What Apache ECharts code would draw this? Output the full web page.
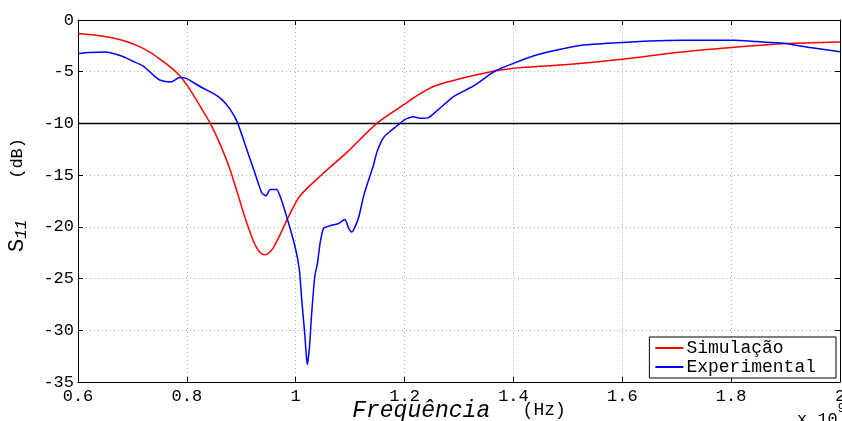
<!DOCTYPE html>
<html>
<head>
<meta charset="utf-8">
<script src="https://cdn.jsdelivr.net/npm/echarts@6/dist/echarts.min.js"></script>
<style>
  html, body { margin: 0; padding: 0; background: #fff; }
  #main { width: 842px; height: 421px; }
</style>
</head>
<body>
<div id="main"></div>
<script>
// frequency in units of 1e9 Hz, S11 in dB
const freqSim = [0.6, 0.63, 0.66, 0.69, 0.714, 0.735, 0.751, 0.77, 0.787, 0.806, 0.824, 0.8425, 0.861, 0.879,
  0.8945, 0.91, 0.925, 0.935, 0.944, 0.951, 0.959, 0.97, 0.985, 1.008, 1.051, 1.094, 1.149, 1.204, 1.225, 1.25,
  1.275, 1.3, 1.35, 1.4, 1.5, 1.6, 1.7, 1.8, 1.9, 2.0];
const s11Sim = [-1.3, -1.45, -1.7, -2.1, -2.6, -3.2, -3.8, -4.55, -5.4, -6.75, -8.3, -9.95, -12.0, -14.4,
  -17.0, -19.6, -21.7, -22.5, -22.7, -22.5, -22.0, -20.9, -19.2, -17.0, -14.8, -12.8, -10.0, -8.0, -7.25, -6.5,
  -6.05, -5.7, -5.1, -4.67, -4.3, -3.8, -3.15, -2.67, -2.28, -2.12];

const freqExp = [0.6, 0.62, 0.65, 0.68, 0.7, 0.72, 0.74, 0.75, 0.77, 0.787, 0.8, 0.812, 0.83, 0.8486, 0.864,
  0.879, 0.893, 0.91, 0.925, 0.9375, 0.9454, 0.953, 0.965, 0.971, 0.983, 0.9987, 1.0066, 1.011, 1.017, 1.021,
  1.025, 1.029, 1.035, 1.04, 1.045, 1.051, 1.057, 1.069, 1.078, 1.0905, 1.097, 1.103, 1.115, 1.124, 1.13,
  1.1425, 1.149, 1.155, 1.161, 1.167, 1.182, 1.201, 1.216, 1.228, 1.244, 1.259, 1.29, 1.326, 1.357, 1.369,
  1.4, 1.4365, 1.48, 1.528, 1.59, 1.651, 1.712, 1.804, 1.847, 1.896, 1.945, 2.0];
const s11Exp = [-3.25, -3.15, -3.09, -3.48, -3.96, -4.45, -5.4, -5.8, -6.0, -5.57, -5.67, -6.05, -6.6, -7.1, -7.67,
  -8.6, -9.92, -12.5, -14.8, -16.7, -17.0, -16.4, -16.4, -17.0, -18.95, -21.9, -24.1, -27.0, -30.6, -33.3,
  -31.8, -28.6, -24.8, -23.5, -21.5, -20.15, -20.0, -19.8, -19.7, -19.3, -20.1, -20.5, -19.2, -17.2, -16.1,
  -14.1, -12.8, -12.0, -11.4, -11.05, -10.4, -9.6, -9.35, -9.5, -9.44, -8.8, -7.4, -6.4, -5.25, -4.86,
  -4.19, -3.48, -2.9, -2.42, -2.19, -2.02, -1.96, -1.96, -2.09, -2.25, -2.67, -3.06];

const threshold = -10;
const seriesNames = ['Simulação', 'Experimental'];

const mono = 'Liberation Mono';
const zip = (xs, ys) => xs.map((x, i) => [x, ys[i]]);

const chart = echarts.init(document.getElementById('main'), null, { renderer: 'canvas' });

const gridLine = { show: true, lineStyle: { color: '#b0b0b0', type: [1, 3], width: 1 } };
const tickIn = { show: true, inside: true, length: 5, lineStyle: { color: '#000' } };

chart.setOption({
  animation: false,
  backgroundColor: '#fff',
  grid: { left: 78, right: 2, top: 20, bottom: 39, containLabel: false, outerBoundsMode: 'none' },
  legend: {
    data: seriesNames,
    orient: 'vertical',
    right: 6,
    bottom: 43,
    backgroundColor: '#fff',
    borderColor: '#000',
    borderWidth: 1,
    borderRadius: 0,
    padding: [2, 20, 2, 6],
    itemGap: 1,
    itemWidth: 28,
    itemHeight: 2,
    icon: 'rect',
    textStyle: { fontFamily: mono, fontSize: 18, color: '#000', lineHeight: 18, padding: [0, 0, 0, -2] }
  },
  xAxis: [{
    type: 'value', min: 0.6, max: 2, interval: 0.2,
    axisLine: { show: true, onZero: false, lineStyle: { color: '#000', width: 1 } },
    axisTick: tickIn,
    splitLine: gridLine,
    axisLabel: { color: '#000', fontFamily: mono, fontSize: 17, margin: 6, showMaxLabel: true },
    name: '{i|Frequência}{n|   (Hz)}',
    nameLocation: 'middle',
    nameGap: 17,
    nameMoveOverlap: false,
    nameTextStyle: {
      rich: {
        i: { fontFamily: mono, fontStyle: 'italic', fontSize: 23, color: '#000' },
        n: { fontFamily: mono, fontSize: 18, color: '#000' }
      }
    }
  }, {
    type: 'value', min: 0.6, max: 2, interval: 0.2, position: 'top',
    axisLine: { show: true, lineStyle: { color: '#000', width: 1 } },
    axisTick: tickIn, axisLabel: { show: false }, splitLine: { show: false }
  }],
  yAxis: [{
    type: 'value', min: -35, max: 0, interval: 5,
    axisLine: { show: true, onZero: false, lineStyle: { color: '#000', width: 1 } },
    axisTick: tickIn,
    splitLine: gridLine,
    axisLabel: { color: '#000', fontFamily: mono, fontSize: 17, margin: 4 },
    name: '{s|S}{sub|11}{n|    (dB)}',
    nameLocation: 'middle',
    nameRotate: 90,
    nameGap: 48,
    nameMoveOverlap: false,
    nameTextStyle: {
      rich: {
        s: { fontFamily: mono, fontSize: 22, color: '#000', padding: [0, 0, 0, 12] },
        sub: { fontFamily: mono, fontStyle: 'italic', fontSize: 16, color: '#000', verticalAlign: 'bottom', padding: [9, 0, 0, 0] },
        n: { fontFamily: mono, fontSize: 17, color: '#000' }
      }
    }
  }, {
    type: 'value', min: -35, max: 0, interval: 5, position: 'right',
    axisLine: { show: true, lineStyle: { color: '#000', width: 1 } },
    axisTick: tickIn, axisLabel: { show: false }, splitLine: { show: false }
  }],
  graphic: [{
    type: 'text', left: 797, top: 403,
    style: {
      text: '{a|x 10}{b|9}',
      rich: {
        a: { fontFamily: mono, fontSize: 17, fill: '#000', padding: [8, 0, 0, 0] },
        b: { fontFamily: mono, fontSize: 12, fill: '#000', verticalAlign: 'top' }
      }
    }
  }],
  series: [{
    name: seriesNames[0], type: 'line', data: zip(freqSim, s11Sim),
    showSymbol: false, symbol: 'none', smooth: 0.25,
    lineStyle: { color: '#ff0000', width: 1.5 }, itemStyle: { color: '#ff0000' }, z: 3
  }, {
    name: seriesNames[1], type: 'line', data: zip(freqExp, s11Exp),
    showSymbol: false, symbol: 'none', smooth: 0.2,
    lineStyle: { color: '#0000ff', width: 1.5 }, itemStyle: { color: '#0000ff' }, z: 4
  }, {
    name: 'threshold', type: 'line', data: [[0.6, threshold], [2, threshold]],
    showSymbol: false, symbol: 'none', silent: true,
    lineStyle: { color: '#000', width: 1.5 }, z: 2
  }]
});
</script>
</body>
</html>
